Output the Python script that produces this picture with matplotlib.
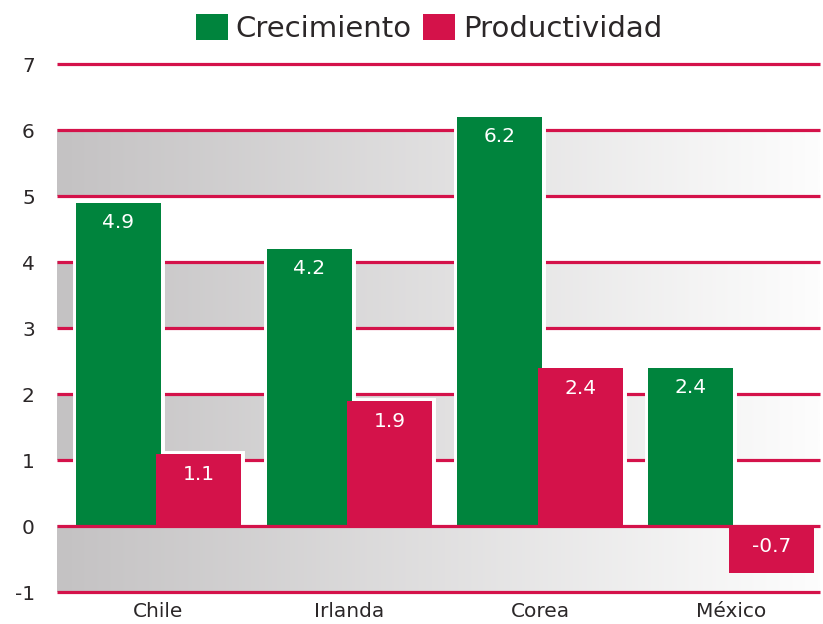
import numpy as np
import matplotlib
matplotlib.use("Agg")
from matplotlib import pyplot as plt
from matplotlib.patches import Patch
from matplotlib.colors import LinearSegmentedColormap

# data
paises = ["Chile", "Irlanda", "Corea", "México"]
crecimiento = [4.9, 4.2, 6.2, 2.4]
productividad = [1.1, 1.9, 2.4, -0.7]
yticks = [-1, 0, 1, 2, 3, 4, 5, 6, 7]

verde = "#00843d"
rojo = "#d4124a"
texto = "#2b2728"

fig = plt.figure(figsize=(8.23, 6.24), dpi=100)
ax = fig.add_axes([0.0693, 0.0505, 0.927, 0.8462])

x = np.arange(len(paises))
w = 0.445
off = 0.2105
xmin, xmax = -0.53, 3.465

# gray gradient bands between gridlines
grad = LinearSegmentedColormap.from_list("g", ["#c4c2c3", "#fdfdfd"])
ramp = np.linspace(0, 1, 256).reshape(1, -1)
for y0 in [1, 3, 5]:
    ax.imshow(ramp, cmap=grad, extent=[xmin, xmax, y0, y0 + 1], aspect="auto", zorder=1)
# the bottom band sits above the halos so no white strip shows under the bars
ax.imshow(ramp, cmap=grad, extent=[xmin, xmax, -1, 0], aspect="auto", zorder=2.5)

# red gridlines
for yv in yticks:
    z = 4 if yv in (0, -1, 7) else 1.5
    ax.axhline(yv, color=rojo, lw=2.3, zorder=z, clip_on=False, solid_capstyle="butt")

# white halo round the bars, then the bars
for lw_, zo in [(5.0, 2), (0, 3)]:
    ax.bar(x - off, crecimiento, w, color=verde, edgecolor="white", linewidth=lw_, zorder=zo)
    ax.bar(x + off, productividad, w, color=rojo, edgecolor="white", linewidth=lw_, zorder=zo + 0.1)

# value labels
for xi, v in zip(x - off, crecimiento):
    ax.annotate(f"{v:.1f}", (xi, max(v, 0)), xytext=(0, -14), textcoords="offset points",
                ha="center", va="center", color="white", fontsize=14.5, zorder=5)
for xi, v in zip(x + off, productividad):
    ax.annotate(f"{v:.1f}", (xi, max(v, 0)), xytext=(0, -14.5), textcoords="offset points",
                ha="center", va="center", color="white", fontsize=14.5, zorder=5)

ax.set_xlim(xmin, xmax)
ax.set_ylim(-1, 7)
ax.set_yticks(yticks)
ax.set_yticklabels([str(t) for t in yticks])
ax.set_xticks(x)
ax.set_xticklabels(paises)
ax.tick_params(axis="y", length=0, pad=16, labelsize=14.5, labelcolor=texto)
ax.tick_params(axis="x", length=0, pad=7, labelsize=14.5, labelcolor=texto)
for s in ax.spines.values():
    s.set_visible(False)

handles = [Patch(facecolor=verde, label="Crecimiento"), Patch(facecolor=rojo, label="Productividad")]
fig.legend(handles=handles, loc="center", bbox_to_anchor=(0.5215, 0.955), ncol=2,
           frameon=False, fontsize=21, handlelength=1.07, handleheight=1.0,
           handletextpad=0.28, columnspacing=0.4, borderpad=0, labelcolor=texto)

fig.savefig("out.png", dpi=100)
